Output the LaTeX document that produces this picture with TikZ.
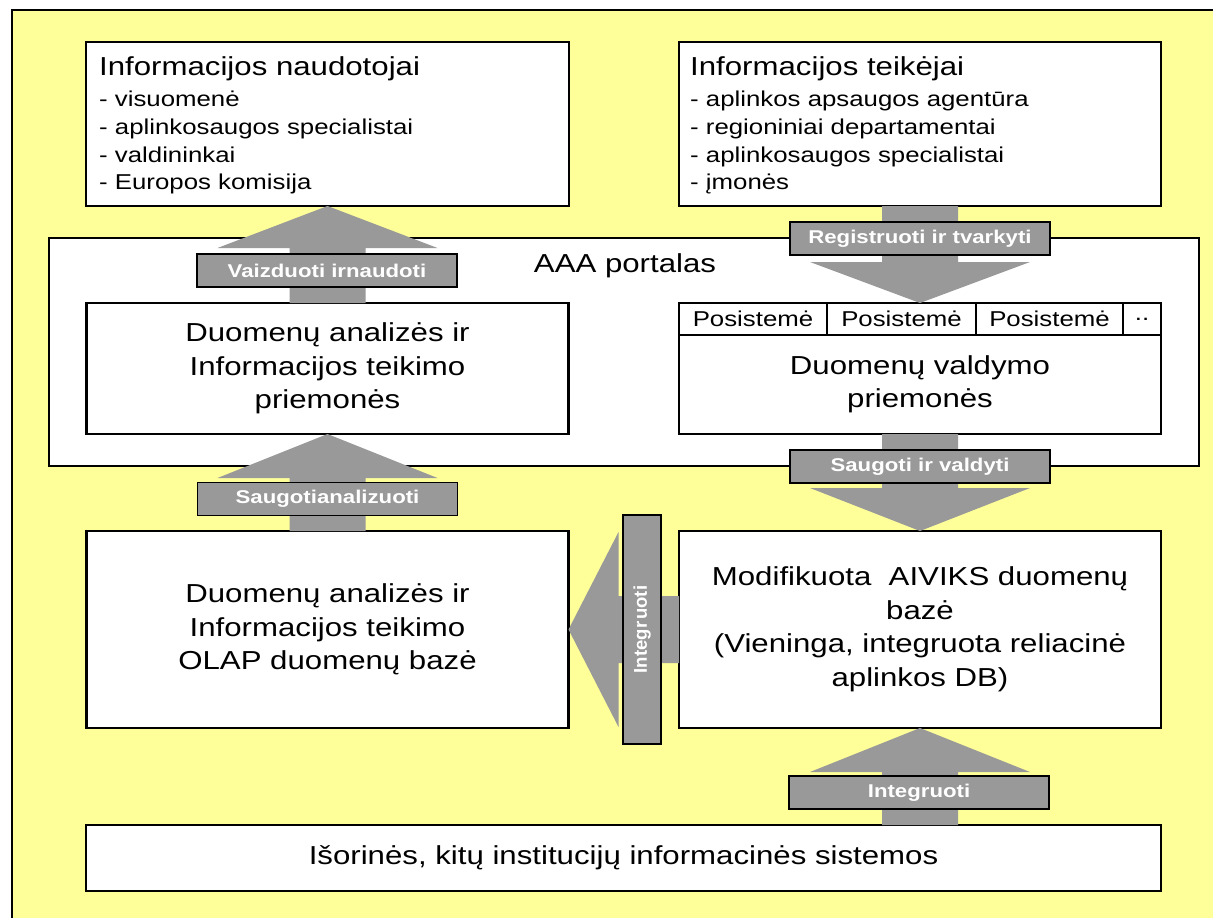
\documentclass[tikz,border=0pt]{standalone}
\usepackage{fontspec}
\setmainfont{Liberation Sans}[FakeStretch=1.2]
\newfontfamily\rotfont{Liberation Sans}
\usetikzlibrary{calc}
\definecolor{bgyellow}{HTML}{FFFF99}
\definecolor{arrgray}{HTML}{999999}
\begin{document}
\begin{tikzpicture}[x=1pt,y=-1pt,
 box/.style={draw=black, line width=2.5pt, fill=white, rectangle, inner sep=0pt, outer sep=0pt},
 lbl/.style={draw=black, line width=1.5pt, fill=arrgray, text=white, font=\fontsize{18.5}{22}\selectfont\bfseries, minimum width=260pt, minimum height=33pt, inner sep=0pt, outer sep=0pt},
 blk/.style={fill=arrgray},
 main/.style={font=\fontsize{26}{33.5}\selectfont, align=center},
 item/.style={font=\fontsize{21.5}{26}\selectfont, anchor=base west, inner sep=0pt},
 ttl/.style={font=\fontsize{26}{30}\selectfont, anchor=base west, inner sep=0pt},
 cell/.style={box, font=\fontsize{21.5}{26}\selectfont, minimum height=32pt},
]
\useasboundingbox (0,0) rectangle (1213,918);
\fill[white] (0,0) rectangle (1213,918);
\fill[bgyellow] (12,10) rectangle (1213,918);
\draw[line width=1.5pt] (12,918) -- (12,10) -- (1213,10);

% portal
\node[box, minimum width=1150pt, minimum height=228pt] (aaa) at (624,352) {};
\node[font=\fontsize{26}{30}\selectfont, anchor=base, inner sep=0pt] (aaat) at (625,272) {AAA portalas};

% boxes
\node[box, minimum width=483pt, minimum height=164pt] (tl) at (327.5,124) {};
\node[box, minimum width=482pt, minimum height=164pt] (tr) at (920,124) {};
\node[box, main, minimum width=482pt, minimum height=131pt] (li) at (327.5,368.5) {Duomenų analizės ir\\Informacijos teikimo\\priemonės};
\node[cell, minimum width=148pt] (p1) at (753,319) {Posistemė};
\node[cell, minimum width=149pt] (p2) at (901.5,319) {Posistemė};
\node[cell, minimum width=147pt] (p3) at (1049.5,319) {Posistemė};
\node[cell, minimum width=38pt] (p4) at (1142,319) {..};
\node[box, main, minimum width=482pt, minimum height=99pt] (ri) at (920,384.5) {Duomenų valdymo\\priemonės};
\node[box, main, minimum width=482pt, minimum height=197pt] (olap) at (327.5,629.5) {Duomenų analizės ir\\Informacijos teikimo\\OLAP duomenų bazė};
\node[box, main, minimum width=482pt, minimum height=197pt] (aiv) at (920,629.5) {Modifikuota\ \ AIVIKS duomenų\\bazė\\(Vieninga, integruota reliacinė\\aplinkos DB)};
\node[box, main, minimum width=1075pt, minimum height=66pt] (bot) at (623.5,858) {Išorinės, kitų institucijų informacinės sistemos};

% texts of top boxes
\node[ttl] (tlt) at (99,75) {Informacijos naudotojai};
\node[item] (tl1) at (99,106) {- visuomenė};
\node[item] (tl2) at (99,134) {- aplinkosaugos specialistai};
\node[item] (tl3) at (99,162) {- valdininkai};
\node[item] (tl4) at (99,189) {- Europos komisija};
\node[ttl] (trt) at (690,75) {Informacijos teikėjai};
\node[item] (tr1) at (690,106) {- aplinkos apsaugos agentūra};
\node[item] (tr2) at (690,134) {- regioniniai departamentai};
\node[item] (tr3) at (690,162) {- aplinkosaugos specialistai};
\node[item] (tr4) at (690,189) {- įmonės};

% block arrows
\fill[blk] (tl.south) -- ++(110,42) -- ++(-72,0) -- ($(li.north)+(38,0)$) -- ($(li.north)+(-38,0)$) -- ($(tl.south)+(-38,42)$) -- ++(-72,0) -- cycle;
\coordinate (ptop) at (tr.south |- p1.north);
\fill[blk] (ptop) -- ++(110,-41) -- ++(-72,0) -- ($(tr.south)+(38,0)$) -- ($(tr.south)+(-38,0)$) -- ($(ptop)+(-38,-41)$) -- ++(-72,0) -- cycle;
\fill[blk] (aiv.north) -- ++(110,-43) -- ++(-72,0) -- ($(ri.south)+(38,0)$) -- ($(ri.south)+(-38,0)$) -- ($(aiv.north)+(-38,-43)$) -- ++(-72,0) -- cycle;
\fill[blk] (li.south) -- ++(110,44) -- ++(-72,0) -- ($(olap.north)+(38,0)$) -- ($(olap.north)+(-38,0)$) -- ($(li.south)+(-38,44)$) -- ++(-72,0) -- cycle;
\fill[blk] (olap.east) -- ++(50,-97.5) -- ++(0,64) -- ($(aiv.west)+(0,-33.5)$) -- ($(aiv.west)+(0,33.5)$) -- ($(olap.east)+(50,33.5)$) -- ++(0,64) -- cycle;
\coordinate (bt) at (aiv.south |- bot.north);
\fill[blk] (aiv.south) -- ++(110,44) -- ++(-72,0) -- ($(bt)+(38,0)$) -- ($(bt)+(-38,0)$) -- ($(aiv.south)+(-38,44)$) -- ++(-72,0) -- cycle;

% labels
\node[lbl] (l1) at (327,270.5) {Vaizduoti irnaudoti};
\node[lbl] (l2) at (920,238.5) {Registruoti ir tvarkyti};
\node[lbl] (l3) at (920,466.5) {Saugoti ir valdyti};
\node[lbl] (l4) at (327.5,499) {Saugotianalizuoti};
\node[lbl, minimum width=38pt, minimum height=229pt] (l5) at (642,629.5) {};
\node[rotate=90, text=white, inner sep=0pt, font=\rotfont\fontsize{18.5}{22}\selectfont\bfseries] (l5t) at (l5.center) {Integr\kern2pt uoti};
\node[lbl] (l6) at (919,792.5) {Integruoti};
\end{tikzpicture}
\end{document}
